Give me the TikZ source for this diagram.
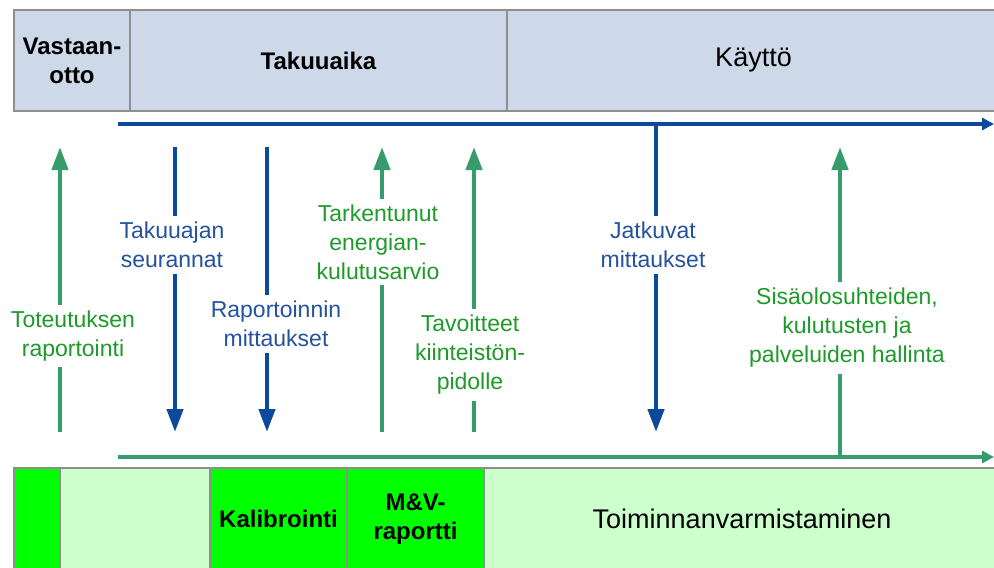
\documentclass[tikz,border=0pt]{standalone}
\usepackage{fontspec}
\setmainfont{Liberation Sans}
\usetikzlibrary{arrows.meta}
\definecolor{ink}{HTML}{000000}
\definecolor{headfill}{HTML}{CDD8E8}
\definecolor{cellline}{HTML}{8E8E8E}
\definecolor{brightgreen}{HTML}{00FF00}
\definecolor{palegreen}{HTML}{CCFFCC}
\definecolor{flowblue}{HTML}{0B4A9A}
\definecolor{flowgreen}{HTML}{369C6C}
\definecolor{textblue}{HTML}{24529E}
\definecolor{textgreen}{HTML}{1E9A2A}
\tikzset{
  cell/.style={draw=cellline, line width=0.7pt, inner sep=0pt, align=center, text=ink, font=\fontsize{12}{14.5}\selectfont\bfseries},
  headcell/.style={cell, fill=headfill, minimum height=50.5pt},
  footcell/.style={cell, minimum height=51pt},
  bigcell/.style={font=\fontsize{13.5}{16}\selectfont},
  flowlabel/.style={fill=white, inner xsep=1pt, inner ysep=3pt, align=center, font=\fontsize{11.5}{14.5}\selectfont},
  bluelabel/.style={flowlabel, text=textblue},
  greenlabel/.style={flowlabel, text=textgreen},
  upflow/.style={-{Triangle[length=11.5pt,width=8pt]}, line width=2.2pt, draw=flowgreen},
  downflow/.style={-{Triangle[length=11.5pt,width=8pt]}, line width=2.2pt, draw=flowblue},
  blueaxis/.style={-{Triangle[length=6pt,width=6pt]}, line width=2pt, draw=flowblue},
  greenaxis/.style={-{Triangle[length=6pt,width=6pt]}, line width=2pt, draw=flowgreen},
}
\begin{document}
\begin{tikzpicture}[x=0.5pt, y=-0.5pt]
\useasboundingbox (0,0) rectangle (994,567);
% phases
\node[headcell, minimum width=58pt] (recv) at (72,60.5) {Vastaan-\\otto};
\node[headcell, minimum width=188.5pt] (warranty) at (318.5,60.5) {Takuuaika};
\node[headcell, bigcell, minimum width=246.5pt] (use) at (753.5,60.5) {Käyttö};
% tasks
\node[footcell, fill=brightgreen, minimum width=23pt] (f1) at (37,519) {};
\node[footcell, fill=palegreen, minimum width=75pt] (f2) at (135,519) {};
\node[footcell, fill=brightgreen, minimum width=68.5pt] (calib) at (278.5,519) {Kalibrointi};
\node[footcell, fill=brightgreen, minimum width=68.5pt] (mv) at (415.5,519) {M\&V-\\raportti};
\node[footcell, fill=palegreen, minimum width=258pt, font=\fontsize{13.5}{16}\selectfont] (commission) at (742,519) {Toiminnanvarmistaminen};
% time axes
\coordinate (bluestart) at (118,124);
\coordinate (blueend) at (994,124);
\coordinate (greenstart) at (118,457);
\coordinate (greenend) at (994,457);
\draw[blueaxis] (bluestart) -- (blueend);
\draw[greenaxis] (greenstart) -- (greenend);
% flows
\coordinate (t1) at (60,147);  \coordinate (b1) at (60,432);
\coordinate (t2) at (175,147); \coordinate (b2) at (175,432);
\coordinate (t3) at (267,147); \coordinate (b3) at (267,432);
\coordinate (t4) at (382,147); \coordinate (b4) at (382,432);
\coordinate (t5) at (474,147); \coordinate (b5) at (474,432);
\coordinate (t6) at (656,124); \coordinate (b6) at (656,432);
\coordinate (t7) at (840,147); \coordinate (b7) at (840,457);
\draw[upflow] (b1) -- (t1);
\draw[downflow] (t2) -- (b2);
\draw[downflow] (t3) -- (b3);
\draw[upflow] (b4) -- (t4);
\draw[upflow] (b5) -- (t5);
\draw[downflow] (t6) -- (b6);
\draw[upflow] (b7) -- (t7);
\node[greenlabel] (report) at (73,336) {Toteutuksen\\raportointi};
\node[bluelabel] (follow) at (172,245) {Takuuajan\\seurannat};
\node[bluelabel] (repmeas) at (276,324) {Raportoinnin\\mittaukset};
\node[greenlabel] (estimate) at (378,242) {Tarkentunut\\energian-\\kulutusarvio};
\node[greenlabel] (targets) at (470,355) {Tavoitteet\\kiinteistön-\\pidolle};
\node[bluelabel] (contmeas) at (653,245) {Jatkuvat\\mittaukset};
\node[greenlabel] (manage) at (847,328) {Sisäolosuhteiden,\\kulutusten ja\\palveluiden hallinta};
\end{tikzpicture}
\end{document}
